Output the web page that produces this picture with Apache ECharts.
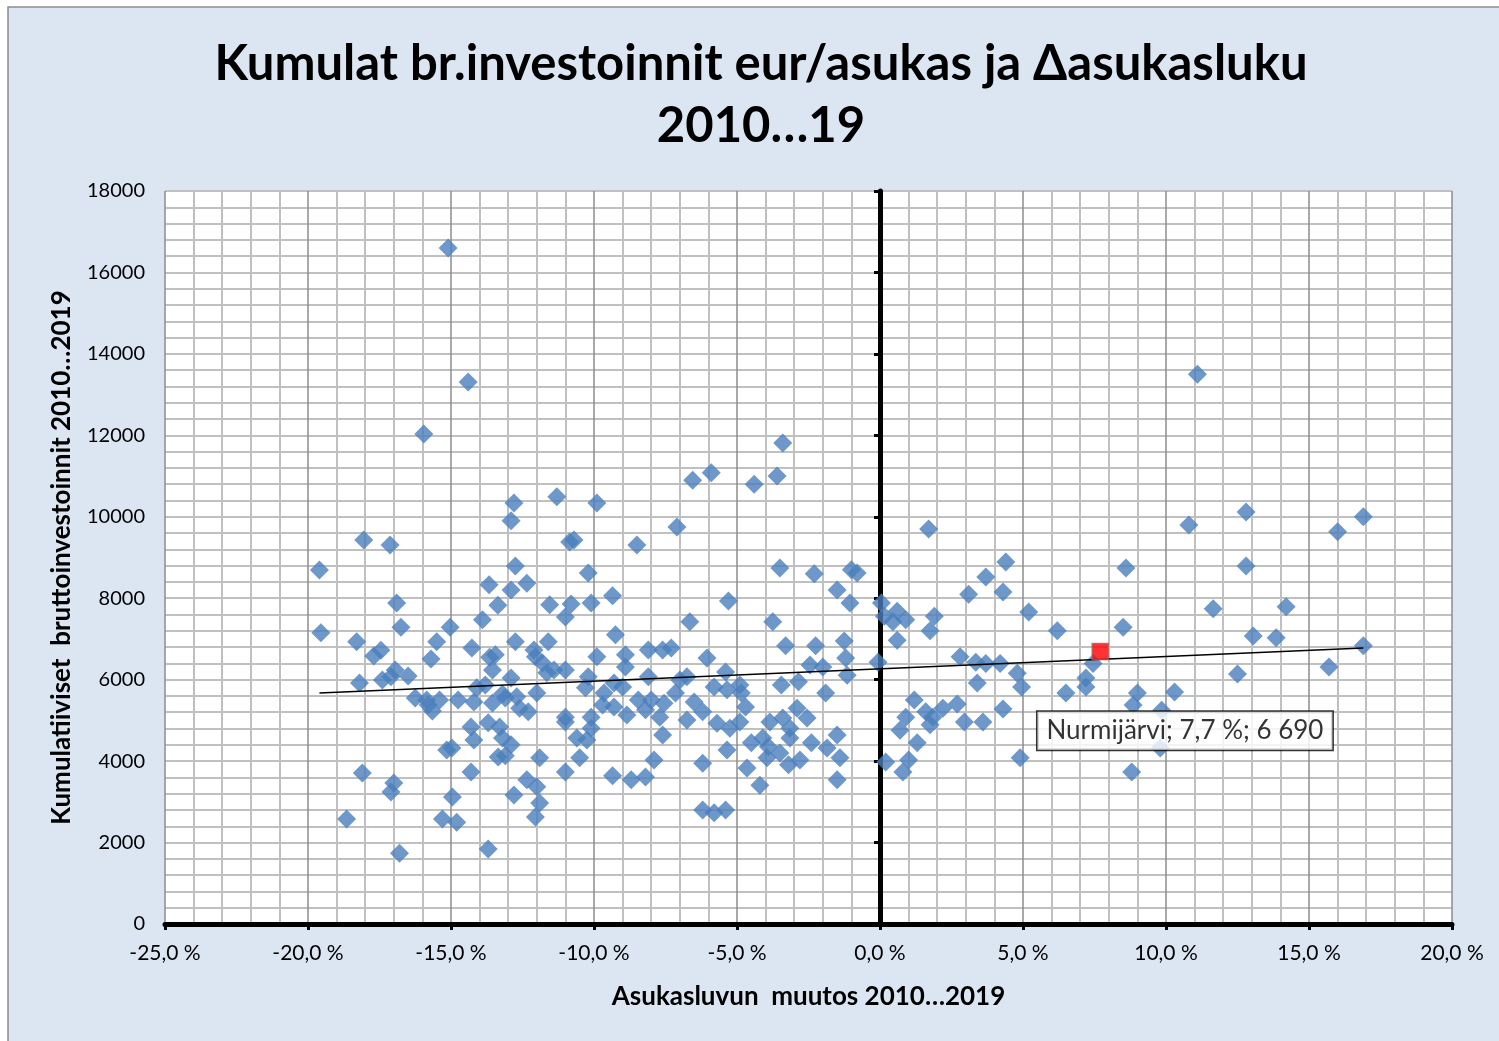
<!DOCTYPE html>
<html>
<head>
<meta charset="utf-8">
<script src="https://cdn.jsdelivr.net/npm/echarts@6/dist/echarts.min.js"></script>
<style>
  html, body { margin: 0; padding: 0; background: #fff; }
  #main { position: absolute; left: 0; top: 0; width: 1499px; height: 1041px; }
</style>
</head>
<body>
<div id="main"></div>
<script>
// Asukasluvun muutos 2010...2019 (%)
const changePct = [
  -19.6, -19.55, -18.65, -18.3, -18.2, -18.1, -18.05, -17.7, -17.45, -17.4,
  -17.13, -17.1, -17.0, -16.95, -17.1, -16.9, -16.75, -16.8, -16.5, -16.25,
  -15.95, -15.85, -15.7, -15.8, -15.65, -15.5, -15.4, -15.3, -15.15, -14.97,
  -15.1, -15.03, -14.95, -14.8, -14.75, -14.4, -14.3, -14.3, -14.27, -14.2,
  -14.2, -14.1, -13.9, -13.8, -13.7, -13.67, -13.7, -13.65, -13.55, -13.45,
  -13.55, -13.36, -13.3, -13.35, -13.1, -13.2, -12.9, -13.2, -13.1, -12.9,
  -12.9, -12.9, -12.8, -12.8, -12.75, -12.75, -12.7, -12.6, -12.35, -12.35,
  -12.3, -12.1, -12.0, -12.0, -11.9, -12.05, -11.9, -12.05, -11.8, -11.6,
  -11.55, -11.4, -11.65, -11.3, -11.0, -11.0, -11.0, -11.0, -11.0, -10.85,
  -10.7, -10.8, -10.6, -10.5, -10.25, -10.1, -10.2, -10.2, -10.3, -10.1,
  -10.1, -9.9, -9.9, -9.7, -9.65, -9.35, -9.35, -9.3, -9.25, -9.3,
  -9.0, -8.9, -8.9, -8.85, -8.7, -8.5, -8.45, -8.2, -8.1, -8.1,
  -8.2, -8.0, -7.9, -7.55, -7.6, -7.7, -7.6, -7.3, -7.15, -7.1,
  -7.0, -6.75, -6.75, -6.65, -6.55, -6.5, -6.2, -6.2, -6.2, -6.05,
  -5.9, -5.8, -5.7, -5.8, -5.4, -5.35, -5.3, -5.35, -5.25, -5.4,
  -4.9, -4.85, -4.9, -4.7, -4.65, -4.5, -4.4, -4.2, -4.1, -3.9,
  -3.95, -3.85, -3.75, -3.6, -3.5, -3.5, -3.45, -3.4, -3.4, -3.3,
  -3.2, -3.15, -3.15, -2.9, -2.85, -2.8, -2.55, -2.45, -2.4, -2.3,
  -2.25, -2.0, -1.9, -1.85, -1.5, -1.5, -1.5, -1.4, -1.25, -1.2,
  -1.15, -1.05, -1.0, -0.8, -0.07,
  0.05, 0.15, 0.6, 0.45, 0.9, 0.6, 0.2, 1.7, 1.9, 1.75,
  3.1, 3.7, 4.4, 4.3, 5.2, 6.2, 8.6, 8.5, 10.8, 12.8,
  12.8, 11.65, 14.2, 13.05, 13.85, 16.0, 16.9, 16.9, 2.8, 3.35,
  3.7, 4.2, 4.8, 4.95, 3.4, 1.2, 0.9, 0.7, 1.6, 1.85,
  1.75, 2.2, 2.7, 2.95, 3.6, 4.3, 1.3, 1.0, 0.8, 4.9,
  6.5, 7.2, 7.2, 7.45, 9.0, 8.85, 9.85, 10.3, 9.8, 8.8,
  12.5, 15.7, 11.1
];
// Kumulatiiviset bruttoinvestoinnit 2010...2019 (eur/asukas)
const investments = [
  8690, 7150, 2580, 6930, 5920, 3710, 9430, 6580, 6720, 5990,
  9310, 3240, 3460, 6240, 6070, 7880, 7290, 1740, 6090, 5550,
  12030, 5500, 6510, 5380, 5230, 6930, 5500, 2580, 4270, 4320,
  16600, 7290, 3120, 2500, 5500, 13310, 3730, 4840, 6780, 4520,
  5450, 5800, 7470, 5870, 1840, 8330, 4940, 6550, 6240, 6610,
  5430, 7830, 4840, 4100, 4130, 4570, 4400, 5650, 5550, 6040,
  8200, 9900, 10340, 3170, 8790, 6930, 5580, 5300, 8370, 3540,
  5210, 6730, 5670, 3370, 2970, 2630, 4080, 6560, 6410, 6930,
  7840, 6240, 6170, 10490, 6240, 7540, 5080, 4960, 3730, 9380,
  9430, 7860, 4570, 4080, 4520, 4810, 8620, 6070, 5800, 7880,
  5080, 10340, 6560, 5380, 5670, 8060, 3640, 5920, 7100, 5330,
  5820, 6610, 6310, 5130, 3540, 9310, 5500, 5260, 6730, 6070,
  3610, 5500, 4030, 5420, 4640, 5080, 6730, 6780, 5670, 9750,
  5990, 6070, 5010, 7420, 10900, 5450, 5210, 3950, 2800, 6530,
  11080, 5820, 4930, 2730, 6190, 5750, 7930, 4270, 4810, 2800,
  5870, 5670, 4960, 5330, 3830, 4450, 10800, 3410, 4570, 4350,
  4080, 4960, 7420, 11000, 8740, 4200, 5870, 11810, 5060, 6830,
  3910, 4810, 4570, 5300, 5950, 4030, 5060, 6360, 4450, 8600,
  6830, 6310, 5670, 4320, 8200, 4640, 3540, 4080, 6950, 6530,
  6110, 7880, 8700, 8620, 6430,
  7880, 7560, 7680, 7420, 7470, 6970, 3980, 9700, 7560, 7200,
  8100, 8520, 8890, 8150, 7660, 7200, 8740, 7290, 9800, 10120,
  8790, 7740, 7790, 7070, 7030, 9630, 10000, 6830, 6560, 6430,
  6400, 6400, 6160, 5820, 5920, 5500, 5080, 4760, 5210, 5080,
  4890, 5300, 5400, 4960, 4960, 5280, 4450, 4030, 3730, 4080,
  5670, 6040, 5820, 6400, 5670, 5380, 5250, 5700, 4320, 3730,
  6140, 6310, 13500
];
// korostettu kunta
const highlightName = 'Nurmijärvi';
const highlightPct = 7.7;
const highlightValue = 6690;
// trendiviivan päätepisteet
const trendX = [-19.6, 16.9];
const trendY = [5670, 6780];

const points = changePct.map((x, i) => [x, investments[i]]);
const trend = trendX.map((x, i) => [x, trendY[i]]);

const fmtPct = v => v.toFixed(1).replace('.', ',') + ' %';
const fmtInt = v => String(Math.round(v)).replace(/\B(?=(\d{3})+(?!\d))/g, ' ');

const chart = echarts.init(document.getElementById('main'));
chart.setOption({
  animation: false,
  textStyle: { fontFamily: 'Lato' },
  graphic: [{
    type: 'rect', z: -10,
    shape: { x: 8, y: 7, width: 1500, height: 1040 },
    style: { fill: '#dce6f2', stroke: '#8c8c8c', lineWidth: 1.5 }
  }],
  title: {
    text: 'Kumulat br.investoinnit eur/asukas ja \u0394asukasluku\n2010\u202619',
    left: 761,
    textAlign: 'center',
    top: 33,
    padding: 0,
    textStyle: { fontSize: 49, fontWeight: 'bold', color: '#000', lineHeight: 62, fontFamily: 'Lato' }
  },
  grid: {
    left: 165, right: 47, top: 191, bottom: 117,
    show: true, backgroundColor: '#fff', borderWidth: 0
  },
  xAxis: {
    type: 'value', min: -25, max: 20, interval: 5,
    name: 'Asukasluvun  muutos 2010\u20262019',
    nameLocation: 'middle', nameGap: 60,
    nameTextStyle: { fontSize: 26, fontWeight: 'bold', color: '#000' },
    axisLine: { lineStyle: { color: '#000', width: 5 } },
    axisTick: { show: true, length: 6, lineStyle: { color: '#000', width: 3 } },
    minorTick: { show: false, splitNumber: 5 },
    splitLine: { show: true, lineStyle: { color: '#8c8c8c', width: 1.5 } },
    minorSplitLine: { show: true, lineStyle: { color: '#c0c0c0', width: 2 } },
    axisLabel: { formatter: fmtPct, fontSize: 21, color: '#000', margin: 19 }
  },
  yAxis: [{
    type: 'value', min: 0, max: 18000, interval: 2000,
    name: 'Kumulatiiviset  bruttoinvestoinnit 2010\u20262019',
    nameLocation: 'middle', nameGap: 90,
    nameTextStyle: { fontSize: 26, fontWeight: 'bold', color: '#000' },
    axisLine: { show: false, onZero: false },
    axisTick: { show: false },
    minorTick: { show: false, splitNumber: 5 },
    splitLine: { show: true, lineStyle: { color: '#c0c0c0', width: 2 } },
    minorSplitLine: { show: true, lineStyle: { color: '#c0c0c0', width: 2 } },
    axisLabel: { fontSize: 20, color: '#000', margin: 20, formatter: v => String(v) }
  }, {
    type: 'value', min: 0, max: 18000, interval: 2000,
    position: 'left',
    axisLine: { show: true, onZero: true, lineStyle: { color: '#000', width: 5 } },
    axisTick: { show: true, length: 6, lineStyle: { color: '#000', width: 3 } },
    axisLabel: { show: false },
    splitLine: { show: false }
  }],
  series: [{
    name: 'Kunnat',
    type: 'scatter',
    data: points,
    symbol: 'diamond',
    symbolSize: 19,
    itemStyle: { color: '#4a7ebb' },
    z: 3
  }, {
    name: 'Trendi',
    type: 'line',
    data: trend,
    symbol: 'none',
    lineStyle: { color: '#000', width: 1.5 },
    z: 4
  }, {
    name: highlightName,
    type: 'scatter',
    data: [[highlightPct, highlightValue]],
    symbol: 'rect',
    symbolSize: 16,
    itemStyle: { color: '#ff0000', borderColor: '#c0504d', borderWidth: 1.5 },
    z: 5,
    label: {
      show: true,
      position: [-54, 69],
      formatter: highlightName + '; ' + fmtPct(highlightPct) + '; ' + fmtInt(highlightValue),
      fontSize: 26,
      color: '#000',
      backgroundColor: '#fff',
      borderColor: '#000',
      borderWidth: 1.5,
      padding: [6, 9]
    }
  }]
});
</script>
</body>
</html>
